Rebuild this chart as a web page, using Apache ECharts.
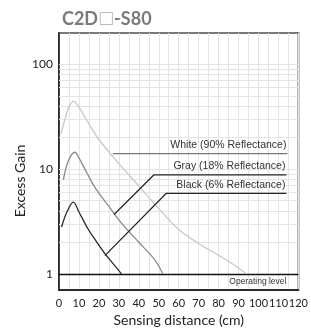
<!DOCTYPE html>
<html>
<head>
<meta charset="utf-8">
<script src="https://cdn.jsdelivr.net/npm/echarts@6/dist/echarts.min.js"></script>
<style>
  html, body { margin: 0; padding: 0; background: #fff; }
  #chart { width: 311px; height: 336px; }
</style>
</head>
<body>
<div id="chart"></div>
<script>
// curves (x = cm, y = excess gain)
const whiteX = [1, 3, 5, 7.3, 10, 15, 20, 30, 40, 50, 60, 70, 80, 87, 94];
const whiteY = [21.7, 30, 39.5, 44.5, 39, 27, 19.2, 11.3, 6.9, 4.2, 2.65, 1.95, 1.5, 1.24, 1.0];
const grayX = [2.2, 4.7, 8, 10, 14, 18, 25, 31, 40, 48, 52];
const grayY = [7.9, 12, 14.5, 12.8, 9.2, 6.7, 4.4, 3.1, 2.0, 1.36, 1.0];
const blackX = [1.3, 3.8, 7.2, 10, 14.7, 19, 23, 27, 31.3];
const blackY = [2.8, 3.83, 4.85, 3.9, 2.65, 2.0, 1.56, 1.26, 1.0];

// leader lines for the labels
const whiteLeaderX = [27, 114.5];
const whiteLeaderY = [14.1, 14.1];
const grayLeaderX = [27.6, 47.5, 114];
const grayLeaderY = [3.69, 8.8, 8.8];
const blackLeaderX = [23, 53.8, 114];
const blackLeaderY = [1.49, 5.88, 5.88];

const labels = ['White (90% Reflectance)', 'Gray (18% Reflectance)', 'Black (6% Reflectance)'];
const xTicks = [0, 10, 20, 30, 40, 50, 60, 70, 80, 90, 100, 110, 120];
const yTicks = [1, 10, 100];
const gridYs = [2, 3, 4, 5, 6, 7, 8, 9, 10, 20, 30, 40, 50, 60, 70, 80, 90, 100];
const operatingLevel = 1;

const pairs = (xs, ys) => xs.map((x, i) => [x, ys[i]]);

const axisFont = 'Lato';
const noteFont = 'Liberation Sans';
const gridColor = '#e4e4e4';

const chart = echarts.init(document.getElementById('chart'));

function curve(data, color) {
  return {
    type: 'line',
    data: data,
    showSymbol: false,
    smooth: 0.35,
    silent: true,
    lineStyle: { color: color, width: 1.3 },
    z: 10
  };
}

function leader(data, color) {
  return {
    type: 'line',
    data: data,
    showSymbol: false,
    silent: true,
    lineStyle: { color: color, width: 1.2 },
    z: 11
  };
}

const option = {
  animation: false,
  title: {
    text: 'C2D{box|□}-S80',
    left: 57,
    top: 5,
    textStyle: {
      fontFamily: axisFont,
      fontWeight: 'bold',
      fontSize: 18,
      color: '#7a7a7a',
      rich: {
        box: { fontFamily: 'DejaVu Sans', fontSize: 17, color: '#bbb', fontWeight: 'normal' }
      }
    }
  },
  grid: {
    left: 59, right: 12, top: 33, bottom: 46,
    show: true,
    borderColor: '#777',
    borderWidth: 2
  },
  xAxis: {
    type: 'value',
    min: 0, max: 120, interval: 10,
    name: 'Sensing distance (cm)',
    nameLocation: 'middle',
    nameGap: 20,
    nameTextStyle: { fontFamily: axisFont, fontSize: 14, color: '#222' },
    axisLine: { lineStyle: { color: '#111', width: 1.5 } },
    axisTick: { show: false },
    axisLabel: {
      customValues: xTicks,
      fontFamily: axisFont, fontSize: 11, color: '#222', margin: 8,
      hideOverlap: false
    },
    splitLine: { show: true, lineStyle: { color: gridColor, width: 1 } },
    minorTick: { show: false, splitNumber: 2 },
    minorSplitLine: { show: true, lineStyle: { color: gridColor, width: 1 } }
  },
  yAxis: {
    type: 'log',
    logBase: 10,
    min: 0.7, max: 200,
    axisLine: { show: true, lineStyle: { color: '#111', width: 1.5 } },
    axisTick: { show: false },
    axisLabel: {
      customValues: yTicks,
      fontFamily: axisFont, fontSize: 12, color: '#222', margin: 6
    },
    splitLine: { show: false }
  },
  series: [
    {
      type: 'line',
      data: [],
      z: 1,
      markLine: {
        silent: true,
        symbol: 'none',
        label: { show: false },
        lineStyle: { color: gridColor, width: 1, type: 'solid' },
        data: gridYs.map(v => ({ yAxis: v }))
      }
    },
    curve(pairs(whiteX, whiteY), '#c8c8c8'),
    curve(pairs(grayX, grayY), '#8a8a8a'),
    curve(pairs(blackX, blackY), '#2a2a2a'),
    leader(pairs(whiteLeaderX, whiteLeaderY), '#777'),
    leader(pairs(grayLeaderX, grayLeaderY), '#222'),
    leader(pairs(blackLeaderX, blackLeaderY), '#222'),
    {
      type: 'line',
      data: [],
      z: 12,
      markLine: {
        silent: true,
        symbol: 'none',
        label: { show: false },
        lineStyle: { color: '#111', width: 1.3, type: 'solid' },
        data: [{ yAxis: operatingLevel }]
      }
    }
  ]
};

chart.setOption(option);

// texts placed through the chart's own coordinate system
const ends = [
  [whiteLeaderX[whiteLeaderX.length - 1], whiteLeaderY[0]],
  [grayLeaderX[grayLeaderX.length - 1], grayLeaderY[grayLeaderY.length - 1]],
  [blackLeaderX[blackLeaderX.length - 1], blackLeaderY[blackLeaderY.length - 1]]
];
const texts = ends.map((p, i) => {
  const px = chart.convertToPixel({ gridIndex: 0 }, p);
  return {
    type: 'text',
    x: px[0] - 1, y: px[1] - 3,
    style: {
      text: labels[i], align: 'right', verticalAlign: 'bottom',
      fontFamily: noteFont, fontSize: 10.5, fill: '#333'
    },
    z: 20
  };
});
const opPx = chart.convertToPixel({ gridIndex: 0 }, [114, operatingLevel]);
texts.push({
  type: 'text',
  x: opPx[0], y: opPx[1] + 3,
  style: {
    text: 'Operating level', align: 'right', verticalAlign: 'top',
    fontFamily: noteFont, fontSize: 8.5, fill: '#333'
  },
  z: 20
});
texts.push({
  type: 'text',
  x: 20, y: 181,
  rotation: Math.PI / 2,
  style: {
    text: 'Excess Gain', align: 'center', verticalAlign: 'middle',
    fontFamily: axisFont, fontSize: 14, fill: '#222'
  }
});

chart.setOption({ graphic: texts });
</script>
</body>
</html>
